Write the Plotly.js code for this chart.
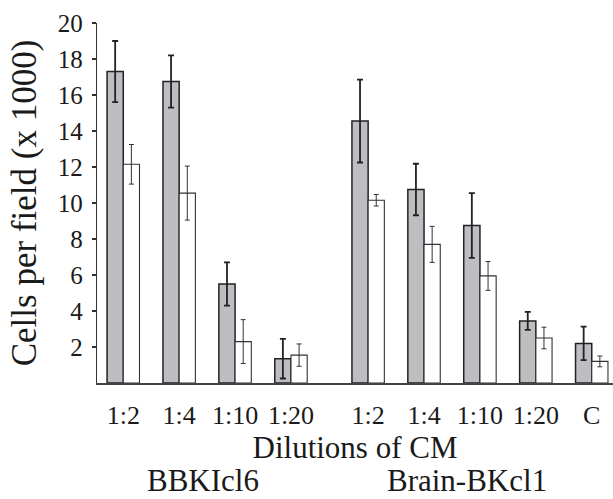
<!DOCTYPE html>
<html>
<head>
<meta charset="utf-8">
<script src="https://cdn.plot.ly/plotly-3.0.1.min.js"></script>
<style>
  html, body { margin: 0; padding: 0; background: #fff; }
  #chart { width: 613px; height: 499px; }
</style>
</head>
<body>
<div id="chart"></div>
<script>
// ---- data ----
const dilutionLabels = ['1:2', '1:4', '1:10', '1:20', '1:2', '1:4', '1:10', '1:20', 'C'];
const groupOf = [0, 0, 0, 0, 1, 1, 1, 1, 1];
const groupNames = ['BBKIcl6', 'Brain-BKcl1'];
const grayValues = [17.3, 16.75, 5.5, 1.35, 14.55, 10.75, 8.75, 3.45, 2.2];
const grayErrors = [1.7, 1.45, 1.2, 1.1, 2.3, 1.43, 1.8, 0.5, 0.93];
const whiteValues = [12.15, 10.55, 2.3, 1.55, 10.15, 7.7, 5.95, 2.5, 1.2];
const whiteErrors = [1.1, 1.5, 1.22, 0.62, 0.32, 1.0, 0.8, 0.6, 0.3];
const yTicks = [2, 4, 6, 8, 10, 12, 14, 16, 18, 20];

// ---- layout helpers ----
const GROUP_GAP = 0.38;            // extra space between the two groups
const BAR_W = 0.29;
const pos = dilutionLabels.map((_, k) => k + groupOf[k] * GROUP_GAP);
const groupCenter = g => {
  const p = pos.filter((_, k) => groupOf[k] === g);
  return (p[0] + p[p.length - 1]) / 2;
};

const FONT = 'Liberation Serif, Times New Roman, serif';
const INK = '#1a1a1a';

const grayTrace = {
  type: 'bar', x: pos, y: grayValues, width: BAR_W, offset: -BAR_W,
  marker: { color: '#bdbec2', line: { color: '#222', width: 1.5 } },
  error_y: { type: 'data', array: grayErrors, visible: true, color: '#222', thickness: 1.8, width: 3 },
  showlegend: false, hoverinfo: 'y'
};
const whiteTrace = {
  type: 'bar', x: pos, y: whiteValues, width: BAR_W, offset: 0,
  marker: { color: '#ffffff', line: { color: '#333', width: 1.1 } },
  error_y: { type: 'data', array: whiteErrors, visible: true, color: '#333', thickness: 1, width: 2.5 },
  showlegend: false, hoverinfo: 'y'
};

const layout = {
  width: 613, height: 499,
  margin: { l: 97, r: 0, t: 23, b: 116 },
  paper_bgcolor: '#fff', plot_bgcolor: '#fff',
  font: { family: FONT, color: INK },
  bargap: 0,
  xaxis: {
    range: [-0.47, 8.76],
    tickvals: pos, ticktext: dilutionLabels,
    tickfont: { family: FONT, size: 26, color: INK },
    showgrid: false, zeroline: false,
    showline: true, linecolor: '#444', linewidth: 2,
    ticks: '', ticklabelstandoff: 8,
    title: { text: 'Dilutions of CM', font: { family: FONT, size: 31, color: INK }, standoff: 5 },
    fixedrange: true
  },
  yaxis: {
    range: [0, 20],
    tickvals: yTicks,
    tickfont: { family: FONT, size: 25, color: INK },
    showgrid: false, zeroline: false,
    showline: true, linecolor: '#333', linewidth: 1.3,
    ticks: 'outside', ticklen: 4, tickcolor: '#333', tickwidth: 1.2,
    ticklabelstandoff: 4,
    title: { text: 'Cells per field (x 1000)', font: { family: FONT, size: 35, color: INK }, standoff: 10 },
    fixedrange: true
  },
  annotations: groupNames.map((name, g) => ({
    text: name, xref: 'x', yref: 'paper',
    x: groupCenter(g) + (g === 0 ? -0.08 : -0.23), y: -0.272,
    xanchor: 'center', yanchor: 'middle', showarrow: false,
    font: { family: FONT, size: 31, color: INK }
  }))
};

Plotly.newPlot('chart', [grayTrace, whiteTrace], layout, { staticPlot: true, displayModeBar: false });
</script>
</body>
</html>
